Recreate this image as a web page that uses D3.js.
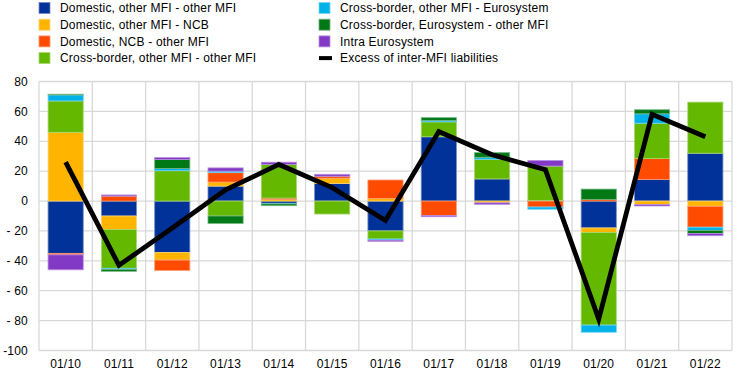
<!DOCTYPE html>
<html>
<head>
<meta charset="utf-8">
<script src="https://d3js.org/d3.v7.min.js"></script>
<style>
  body { margin: 0; background: #fff; }
  text { font-family: Arial, "Liberation Sans", sans-serif; font-size: 12px; fill: #000; letter-spacing: 0.2px; }
</style>
</head>
<body>
<svg width="744" height="378"></svg>
<script>
var categories = ["01/10", "01/11", "01/12", "01/13", "01/14", "01/15", "01/16", "01/17", "01/18", "01/19", "01/20", "01/21", "01/22"];

var seriesNames = [
  "Domestic, other MFI - other MFI",
  "Domestic, other MFI - NCB",
  "Domestic, NCB - other MFI",
  "Cross-border, other MFI - other MFI",
  "Cross-border, other MFI - Eurosystem",
  "Cross-border, Eurosystem - other MFI",
  "Intra Eurosystem"
];
var seriesColors = ["#003299", "#ffb400", "#ff4b00", "#65b800", "#00b1ea", "#007816", "#8139c6"];

var domesticOtherOther = [-35, -10, -34.5, 10, -1.5, 11.8, -20, 43, 14.8, 0.4, -18, 14.5, 32];
var domesticOtherNcb   = [46, -9, -5, 2.7, 1, 3.5, 1.7, 0, -1.2, 0, -3, -2.3, -3.5];
var domesticNcbOther   = [-1, 3.3, -7, 6.3, 1, 1.3, 12.4, -9.7, 0, -4, 1, 13.9, -14];
var crossOtherOther    = [21, -26, 20.3, -10, 22.5, -8.7, -5.4, 10, 13.2, 23, -62, 23.7, 34.2];
var crossOtherEuro     = [4, -0.7, 1.5, 1, -0.4, 0, -0.8, 1, 1.3, -1.5, -4.8, 6.3, -2.2];
var crossEuroOther     = [0.5, -1.3, 6, -5, -1.2, 0, 0, 1.8, 3.1, 0, 7, 2.7, -2];
var intraEurosystem    = [-10, 0.8, 1.3, 2.2, 1.5, 1.3, -0.8, -0.8, -1, 3.8, 0, -1, -1.5];

var excessLiabilities  = [26, -43, -18, 7.5, 24.5, 9, -13, 46.5, 31, 21, -79, 58, 43];
var lineName = "Excess of inter-MFI liabilities";

var yTicks = [80, 60, 40, 20, 0, -20, -40, -60, -80, -100];
var yTickLabels = ["80", "60", "40", "20", "0", "- 20", "- 40", "- 60", "- 80", "-100"];

var seriesValues = [domesticOtherOther, domesticOtherNcb, domesticNcbOther, crossOtherOther,
                    crossOtherEuro, crossEuroOther, intraEurosystem];

var rows = categories.map(function(c, i) {
  var r = { cat: c };
  seriesNames.forEach(function(n, k) { r[n] = seriesValues[k][i]; });
  return r;
});

var svg = d3.select("svg");
var plotLeft = 39, plotRight = 732, plotTop = 81.5, plotBottom = 350.5;

var x = d3.scaleBand().domain(categories).range([plotLeft, plotRight]).paddingInner(0.34).paddingOuter(0.17);
var y = d3.scaleLinear().domain([-100, 80]).range([plotBottom, plotTop]);

// grid
var grid = svg.append("g").attr("stroke", "#d9d9d9").attr("stroke-width", 1.3);
grid.selectAll("line.h").data(yTicks).enter().append("line")
    .attr("x1", plotLeft).attr("x2", plotRight)
    .attr("y1", function(d) { return y(d); }).attr("y2", function(d) { return y(d); });
var step = x.step();
grid.selectAll("line.v").data(d3.range(categories.length + 1)).enter().append("line")
    .attr("x1", function(i) { return plotLeft + i * step; }).attr("x2", function(i) { return plotLeft + i * step; })
    .attr("y1", plotTop).attr("y2", plotBottom);

// y labels
svg.append("g").selectAll("text").data(yTicks).enter().append("text")
    .attr("x", 28).attr("y", function(d) { return y(d); }).attr("dy", "0.35em")
    .attr("text-anchor", "end")
    .text(function(d, i) { return yTickLabels[i]; });

// x labels
svg.append("g").selectAll("text").data(categories).enter().append("text")
    .attr("x", function(d) { return x(d) + x.bandwidth() / 2; }).attr("y", 368)
    .attr("text-anchor", "middle")
    .text(function(d) { return d; });

// stacked bars
var stack = d3.stack().keys(seriesNames).offset(d3.stackOffsetDiverging);
var layers = stack(rows);

svg.append("g").selectAll("g").data(layers).enter().append("g")
    .attr("fill", function(d, i) { return seriesColors[i]; })
    .attr("stroke", function(d, i) { return d3.interpolateRgb(seriesColors[i], "#fff")(0.45); })
    .attr("stroke-width", 0.8)
  .selectAll("rect").data(function(d) { return d; }).enter().append("rect")
    .filter(function(d) { return d[1] !== d[0]; })
    .attr("x", function(d) { return x(d.data.cat); })
    .attr("width", x.bandwidth())
    .attr("y", function(d) { return y(Math.max(d[0], d[1])); })
    .attr("height", function(d) { return Math.abs(y(d[0]) - y(d[1])); });

// line
var line = d3.line()
    .x(function(d, i) { return x(categories[i]) + x.bandwidth() / 2; })
    .y(function(d) { return y(d); });
svg.append("path").datum(excessLiabilities)
    .attr("d", line)
    .attr("fill", "none").attr("stroke", "#000").attr("stroke-width", 4.8)
    .attr("stroke-linejoin", "miter");

// legend
var legendItems = [
  { name: seriesNames[0], color: seriesColors[0], col: 0, row: 0 },
  { name: seriesNames[1], color: seriesColors[1], col: 0, row: 1 },
  { name: seriesNames[2], color: seriesColors[2], col: 0, row: 2 },
  { name: seriesNames[3], color: seriesColors[3], col: 0, row: 3 },
  { name: seriesNames[4], color: seriesColors[4], col: 1, row: 0 },
  { name: seriesNames[5], color: seriesColors[5], col: 1, row: 1 },
  { name: seriesNames[6], color: seriesColors[6], col: 1, row: 2 },
  { name: lineName, color: "#000", col: 1, row: 3, isLine: true }
];
var lg = svg.append("g").selectAll("g").data(legendItems).enter().append("g")
    .attr("transform", function(d) { return "translate(" + (d.col ? 319 : 39) + "," + (8 + d.row * 16.7) + ")"; });
lg.filter(function(d) { return !d.isLine; }).append("rect")
    .attr("x", 0).attr("y", -5.5).attr("width", 11).attr("height", 11)
    .attr("fill", function(d) { return d.color; })
    .attr("stroke", function(d) { return d3.interpolateRgb(d.color, "#fff")(0.45); }).attr("stroke-width", 0.8);
lg.filter(function(d) { return d.isLine; }).append("rect")
    .attr("x", 0).attr("y", -2).attr("width", 13).attr("height", 4).attr("fill", "#000");
lg.append("text").attr("x", 21).attr("dy", "0.35em").text(function(d) { return d.name; });
</script>
</body>
</html>
